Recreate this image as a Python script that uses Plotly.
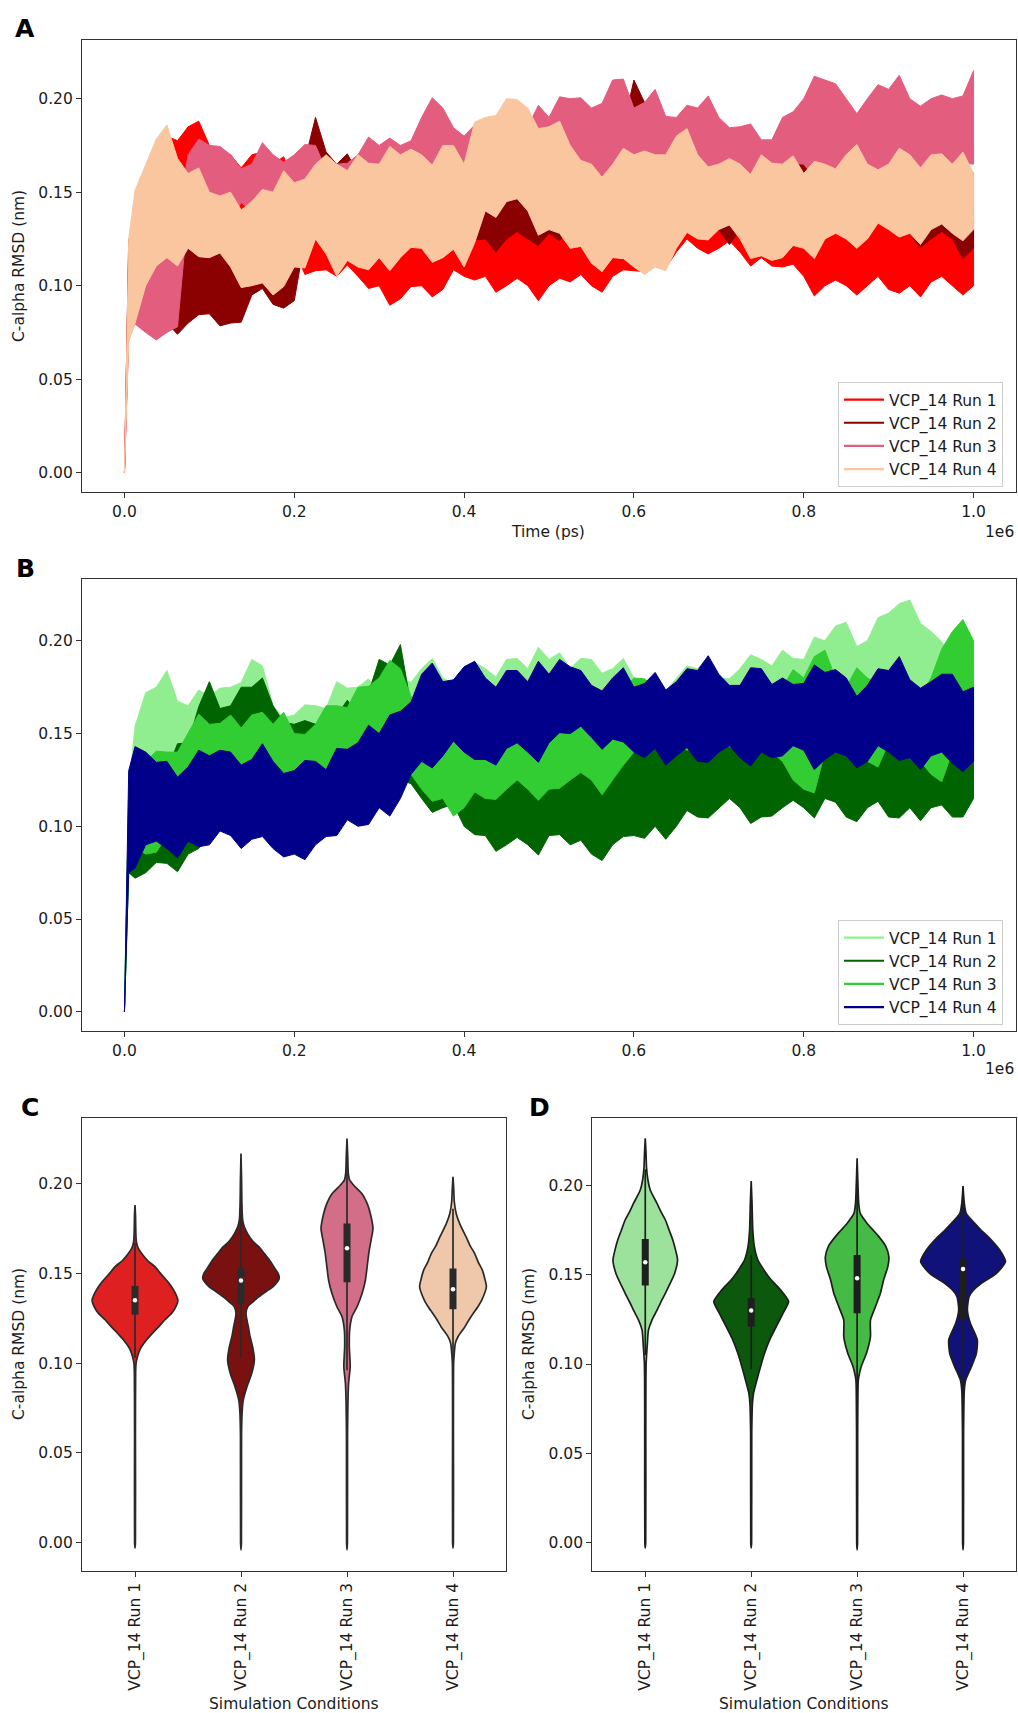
import plotly.graph_objects as go
import colorsys

W, H = 1018, 1713
FONT = "DejaVu Sans"
TXT = "#1a1a1a"

# ---------------- data ----------------
# main sampling times and the in-between sampling times (ps)
TIME_PS = [0, 5000, 25000, 50000, 75000, 100000, 125000, 150000, 175000, 200000,
           225000, 250000, 275000, 300000, 325000, 350000, 375000, 400000, 425000,
           450000, 475000, 500000, 525000, 550000, 575000, 600000, 625000, 650000,
           675000, 700000, 725000, 750000, 775000, 800000, 825000, 850000, 875000,
           900000, 925000, 950000, 975000, 1000000]
TIME_MID_PS = [12500, 37500, 62500, 87500, 112500, 137500, 162500, 187500, 212500,
               237500, 262500, 287500, 312500, 337500, 362500, 387500, 412500, 437500,
               462500, 487500, 512500, 537500, 562500, 587500, 612500, 637500, 662500,
               687500, 712500, 737500, 762500, 787500, 812500, 837500, 862500, 887500,
               912500, 937500, 962500, 987500]

RUN_LABELS = ["VCP_14 Run 1", "VCP_14 Run 2", "VCP_14 Run 3", "VCP_14 Run 4"]
COLORS_A = ["#FF0000", "#8B0000", "#E35D7F", "#FAC6A0"]
COLORS_B = ["#90EE90", "#006400", "#32CD32", "#00008B"]

# Panel A: upper / lower envelope of each RMSD trace (nm)
A1_HI = [0, 0.12, 0.15, 0.18, 0.185, 0.175, 0.17, 0.17, 0.165, 0.155, 0.15, 0.15, 0.155, 0.14, 0.13, 0.14, 0.145, 0.145, 0.14, 0.145, 0.14, 0.145, 0.14, 0.14, 0.145, 0.145, 0.15, 0.15, 0.15, 0.148, 0.15, 0.15, 0.145, 0.14, 0.14, 0.14, 0.14, 0.145, 0.14, 0.14, 0.14, 0.135]
A1_HI_MID = [0.141, 0.168, 0.1775, 0.188, 0.1705, 0.163, 0.1715, 0.169, 0.1495, 0.155, 0.1465, 0.1455, 0.142, 0.138, 0.1345, 0.15, 0.1525, 0.1385, 0.1445, 0.1365, 0.1505, 0.137, 0.1355, 0.151, 0.1495, 0.145, 0.159, 0.145, 0.152, 0.142, 0.1455, 0.1495, 0.144, 0.135, 0.148, 0.1395, 0.1485, 0.133, 0.143, 0.1465]
A1_LO = [0, 0.08, 0.10, 0.11, 0.125, 0.125, 0.12, 0.12, 0.12, 0.12, 0.108, 0.105, 0.105, 0.10, 0.093, 0.10, 0.098, 0.105, 0.105, 0.10, 0.10, 0.10, 0.102, 0.10, 0.105, 0.108, 0.115, 0.118, 0.12, 0.12, 0.118, 0.115, 0.11, 0.105, 0.10, 0.10, 0.10, 0.098, 0.10, 0.102, 0.10, 0.10]
A1_LO_MID = [0.085, 0.108, 0.1105, 0.123, 0.1275, 0.114, 0.124, 0.117, 0.106, 0.1085, 0.111, 0.0985, 0.0895, 0.0995, 0.094, 0.1085, 0.103, 0.0965, 0.104, 0.092, 0.104, 0.106, 0.0965, 0.1085, 0.1075, 0.1095, 0.125, 0.117, 0.124, 0.1105, 0.1105, 0.1115, 0.0945, 0.103, 0.095, 0.105, 0.096, 0.094, 0.105, 0.095]
A2_HI = [0, 0.125, 0.12, 0.12, 0.128, 0.125, 0.125, 0.125, 0.125, 0.13, 0.19, 0.165, 0.16, 0.165, 0.165, 0.165, 0.17, 0.17, 0.165, 0.16, 0.16, 0.165, 0.165, 0.165, 0.17, 0.21, 0.17, 0.165, 0.165, 0.17, 0.165, 0.17, 0.165, 0.165, 0.17, 0.17, 0.165, 0.165, 0.17, 0.165, 0.165, 0.16]
A2_HI_MID = [0.1165, 0.118, 0.131, 0.1295, 0.117, 0.13, 0.135, 0.1235, 0.167, 0.1715, 0.1705, 0.1595, 0.158, 0.171, 0.1695, 0.165, 0.1765, 0.1585, 0.163, 0.1545, 0.163, 0.172, 0.1715, 0.185, 0.198, 0.1645, 0.171, 0.1605, 0.1705, 0.1765, 0.1735, 0.168, 0.1625, 0.178, 0.1655, 0.158, 0.1715, 0.1765, 0.162, 0.1675]
A2_LO = [0, 0.075, 0.08, 0.08, 0.08, 0.085, 0.08, 0.095, 0.09, 0.092, 0.13, 0.13, 0.125, 0.125, 0.13, 0.125, 0.125, 0.13, 0.125, 0.125, 0.125, 0.128, 0.13, 0.13, 0.13, 0.13, 0.13, 0.128, 0.13, 0.13, 0.13, 0.128, 0.13, 0.13, 0.128, 0.125, 0.13, 0.13, 0.128, 0.125, 0.125, 0.12]
A2_LO_MID = [0.0805, 0.085, 0.074, 0.0845, 0.0785, 0.0805, 0.0985, 0.088, 0.125, 0.124, 0.1255, 0.129, 0.1195, 0.1305, 0.12, 0.1335, 0.1245, 0.118, 0.129, 0.1215, 0.124, 0.133, 0.123, 0.128, 0.135, 0.123, 0.133, 0.127, 0.122, 0.131, 0.135, 0.126, 0.122, 0.1295, 0.1225, 0.137, 0.127, 0.1205, 0.129, 0.1145]
A3_HI = [0, 0.11, 0.14, 0.14, 0.17, 0.175, 0.17, 0.165, 0.17, 0.17, 0.175, 0.165, 0.17, 0.175, 0.175, 0.19, 0.195, 0.18, 0.18, 0.185, 0.185, 0.19, 0.2, 0.195, 0.21, 0.195, 0.205, 0.19, 0.195, 0.19, 0.185, 0.178, 0.19, 0.2, 0.21, 0.2, 0.2, 0.205, 0.2, 0.2, 0.2, 0.215]
A3_HI_MID = [0.133, 0.137, 0.135, 0.1785, 0.1745, 0.1625, 0.1765, 0.166, 0.1755, 0.162, 0.1655, 0.1795, 0.179, 0.1775, 0.2005, 0.1845, 0.186, 0.1755, 0.188, 0.1965, 0.201, 0.2005, 0.1975, 0.2105, 0.198, 0.1905, 0.1965, 0.2015, 0.1845, 0.1865, 0.178, 0.193, 0.212, 0.208, 0.192, 0.2075, 0.2125, 0.196, 0.202, 0.2015]
A3_LO = [0, 0.072, 0.075, 0.075, 0.14, 0.14, 0.135, 0.14, 0.145, 0.14, 0.145, 0.14, 0.14, 0.145, 0.145, 0.15, 0.155, 0.145, 0.145, 0.145, 0.15, 0.16, 0.16, 0.165, 0.16, 0.16, 0.165, 0.16, 0.16, 0.158, 0.155, 0.155, 0.16, 0.165, 0.165, 0.165, 0.165, 0.162, 0.165, 0.165, 0.162, 0.165]
A3_LO_MID = [0.0795, 0.071, 0.078, 0.143, 0.1325, 0.1445, 0.1405, 0.1365, 0.1465, 0.1345, 0.143, 0.1475, 0.139, 0.1495, 0.1485, 0.143, 0.151, 0.142, 0.1525, 0.149, 0.158, 0.1665, 0.1545, 0.163, 0.1575, 0.1685, 0.157, 0.152, 0.1605, 0.15, 0.1525, 0.1655, 0.158, 0.163, 0.17, 0.1575, 0.1675, 0.162, 0.1555, 0.1655]
A4_HI = [0, 0.125, 0.165, 0.186, 0.16, 0.15, 0.15, 0.145, 0.15, 0.155, 0.165, 0.165, 0.17, 0.165, 0.17, 0.17, 0.175, 0.165, 0.19, 0.2, 0.195, 0.185, 0.175, 0.165, 0.165, 0.17, 0.17, 0.18, 0.17, 0.165, 0.165, 0.17, 0.165, 0.16, 0.165, 0.17, 0.165, 0.165, 0.17, 0.17, 0.165, 0.16]
A4_HI_MID = [0.151, 0.1785, 0.168, 0.163, 0.148, 0.1405, 0.1515, 0.1615, 0.157, 0.17, 0.1615, 0.1655, 0.1745, 0.173, 0.1645, 0.175, 0.1875, 0.191, 0.1995, 0.184, 0.188, 0.167, 0.158, 0.1735, 0.172, 0.17, 0.184, 0.1635, 0.168, 0.1595, 0.1655, 0.1695, 0.1665, 0.1625, 0.1755, 0.162, 0.1735, 0.163, 0.1705, 0.1715]
A4_LO = [0, 0.07, 0.10, 0.115, 0.12, 0.115, 0.11, 0.10, 0.095, 0.11, 0.125, 0.105, 0.11, 0.115, 0.115, 0.12, 0.115, 0.11, 0.14, 0.145, 0.14, 0.13, 0.12, 0.112, 0.115, 0.11, 0.11, 0.12, 0.125, 0.13, 0.125, 0.116, 0.115, 0.12, 0.125, 0.125, 0.125, 0.13, 0.128, 0.13, 0.128, 0.13]
A4_LO_MID = [0.08, 0.1105, 0.1105, 0.1155, 0.1175, 0.099, 0.1015, 0.0995, 0.1095, 0.117, 0.1135, 0.1085, 0.108, 0.1205, 0.1125, 0.1195, 0.123, 0.1365, 0.1465, 0.127, 0.128, 0.121, 0.1075, 0.1145, 0.106, 0.108, 0.1285, 0.1245, 0.1325, 0.1145, 0.1135, 0.1215, 0.1145, 0.128, 0.12, 0.1335, 0.126, 0.122, 0.133, 0.124]

# Panel B
B1_HI = [0, 0.12, 0.172, 0.184, 0.165, 0.17, 0.175, 0.19, 0.165, 0.16, 0.165, 0.178, 0.175, 0.17, 0.18, 0.185, 0.18, 0.18, 0.185, 0.19, 0.185, 0.19, 0.185, 0.19, 0.185, 0.18, 0.18, 0.18, 0.185, 0.18, 0.185, 0.19, 0.195, 0.19, 0.2, 0.21, 0.2, 0.215, 0.222, 0.205, 0.19, 0.185]
B1_HI_MID = [0.154, 0.175, 0.1675, 0.1735, 0.1745, 0.1775, 0.1865, 0.1585, 0.1655, 0.1635, 0.1745, 0.1795, 0.179, 0.1775, 0.1905, 0.177, 0.1885, 0.1805, 0.1905, 0.1965, 0.1935, 0.1905, 0.1825, 0.1905, 0.178, 0.173, 0.1865, 0.1915, 0.1795, 0.1925, 0.1865, 0.1905, 0.202, 0.208, 0.197, 0.2125, 0.22, 0.2095, 0.1995, 0.1815]
B1_LO = [0, 0.08, 0.12, 0.125, 0.13, 0.125, 0.13, 0.13, 0.125, 0.125, 0.13, 0.135, 0.14, 0.14, 0.145, 0.14, 0.14, 0.14, 0.14, 0.145, 0.14, 0.145, 0.14, 0.14, 0.145, 0.14, 0.145, 0.145, 0.14, 0.145, 0.145, 0.15, 0.155, 0.16, 0.165, 0.165, 0.17, 0.17, 0.17, 0.165, 0.16, 0.155]
B1_LO_MID = [0.10, 0.1175, 0.1305, 0.1205, 0.1255, 0.135, 0.1215, 0.129, 0.1245, 0.1245, 0.1395, 0.146, 0.1385, 0.1355, 0.143, 0.135, 0.147, 0.1405, 0.1365, 0.1465, 0.1345, 0.143, 0.1475, 0.1365, 0.1445, 0.141, 0.1355, 0.1485, 0.142, 0.1525, 0.1465, 0.1555, 0.1665, 0.157, 0.1705, 0.165, 0.176, 0.1645, 0.1555, 0.1615]
B2_HI = [0, 0.11, 0.125, 0.13, 0.145, 0.178, 0.165, 0.175, 0.165, 0.155, 0.155, 0.16, 0.16, 0.19, 0.198, 0.15, 0.145, 0.14, 0.135, 0.13, 0.13, 0.135, 0.13, 0.13, 0.135, 0.14, 0.145, 0.145, 0.15, 0.15, 0.15, 0.145, 0.145, 0.145, 0.15, 0.15, 0.15, 0.145, 0.15, 0.145, 0.145, 0.15]
B2_HI_MID = [0.1115, 0.1255, 0.1445, 0.1645, 0.1635, 0.175, 0.18, 0.156, 0.157, 0.1515, 0.168, 0.172, 0.187, 0.165, 0.1495, 0.1375, 0.1465, 0.1285, 0.133, 0.1245, 0.1305, 0.137, 0.1365, 0.1325, 0.1505, 0.142, 0.1535, 0.143, 0.153, 0.1565, 0.151, 0.148, 0.1425, 0.158, 0.148, 0.1405, 0.1515, 0.1565, 0.142, 0.1525]
B2_LO = [0, 0.075, 0.075, 0.08, 0.085, 0.095, 0.1, 0.11, 0.1, 0.1, 0.105, 0.105, 0.11, 0.12, 0.125, 0.115, 0.11, 0.1, 0.095, 0.09, 0.09, 0.095, 0.09, 0.085, 0.09, 0.095, 0.1, 0.1, 0.105, 0.11, 0.11, 0.105, 0.11, 0.11, 0.115, 0.105, 0.11, 0.105, 0.11, 0.11, 0.105, 0.115]
B2_LO_MID = [0.072, 0.0805, 0.0755, 0.088, 0.1025, 0.099, 0.109, 0.097, 0.0945, 0.107, 0.1135, 0.111, 0.1155, 0.123, 0.1075, 0.112, 0.0955, 0.0865, 0.094, 0.0845, 0.0955, 0.0925, 0.0815, 0.0945, 0.0935, 0.093, 0.1085, 0.1045, 0.115, 0.1015, 0.1055, 0.114, 0.1045, 0.113, 0.1025, 0.1135, 0.1045, 0.103, 0.1115, 0.105]
B3_HI = [0, 0.12, 0.135, 0.14, 0.15, 0.155, 0.16, 0.16, 0.155, 0.15, 0.155, 0.165, 0.175, 0.18, 0.185, 0.15, 0.145, 0.14, 0.145, 0.145, 0.15, 0.15, 0.155, 0.16, 0.155, 0.18, 0.175, 0.17, 0.175, 0.17, 0.175, 0.17, 0.175, 0.18, 0.195, 0.175, 0.18, 0.18, 0.175, 0.18, 0.205, 0.2]
B3_HI_MID = [0.1335, 0.1405, 0.14, 0.1605, 0.1555, 0.153, 0.1615, 0.1615, 0.1495, 0.165, 0.164, 0.1755, 0.1895, 0.17, 0.1395, 0.1475, 0.1525, 0.141, 0.1495, 0.144, 0.1605, 0.1545, 0.1505, 0.1735, 0.1795, 0.1675, 0.1815, 0.1685, 0.1755, 0.1645, 0.1705, 0.1845, 0.1915, 0.18, 0.1855, 0.177, 0.1835, 0.1705, 0.1955, 0.2115]
B3_LO = [0, 0.08, 0.085, 0.095, 0.1, 0.11, 0.115, 0.115, 0.115, 0.11, 0.115, 0.125, 0.14, 0.145, 0.14, 0.12, 0.115, 0.11, 0.115, 0.12, 0.12, 0.12, 0.125, 0.125, 0.125, 0.14, 0.142, 0.145, 0.142, 0.145, 0.14, 0.142, 0.135, 0.12, 0.14, 0.145, 0.135, 0.145, 0.14, 0.128, 0.14, 0.14]
B3_LO_MID = [0.0885, 0.086, 0.0905, 0.108, 0.1075, 0.122, 0.113, 0.1065, 0.1165, 0.112, 0.1355, 0.1475, 0.1365, 0.128, 0.1135, 0.1055, 0.1185, 0.1145, 0.125, 0.114, 0.1205, 0.129, 0.117, 0.133, 0.143, 0.147, 0.141, 0.146, 0.143, 0.145, 0.14, 0.125, 0.118, 0.146, 0.138, 0.132, 0.147, 0.135, 0.124, 0.145]
B4_HI = [0, 0.13, 0.14, 0.135, 0.132, 0.138, 0.14, 0.136, 0.135, 0.13, 0.135, 0.142, 0.145, 0.15, 0.162, 0.182, 0.178, 0.186, 0.18, 0.184, 0.178, 0.182, 0.186, 0.176, 0.18, 0.175, 0.183, 0.178, 0.184, 0.182, 0.176, 0.185, 0.18, 0.177, 0.183, 0.18, 0.176, 0.184, 0.179, 0.178, 0.182, 0.175]
B4_HI_MID = [0.143, 0.1345, 0.1265, 0.141, 0.141, 0.133, 0.1445, 0.1285, 0.1355, 0.1305, 0.1415, 0.1545, 0.16, 0.167, 0.188, 0.179, 0.189, 0.175, 0.184, 0.189, 0.19, 0.184, 0.173, 0.1855, 0.177, 0.1735, 0.185, 0.192, 0.176, 0.1855, 0.1765, 0.1765, 0.187, 0.1845, 0.17, 0.185, 0.1915, 0.1745, 0.182, 0.1725]
B4_LO = [0, 0.075, 0.09, 0.088, 0.092, 0.09, 0.095, 0.093, 0.088, 0.085, 0.09, 0.095, 0.1, 0.11, 0.115, 0.135, 0.138, 0.14, 0.136, 0.142, 0.14, 0.145, 0.15, 0.148, 0.147, 0.14, 0.142, 0.138, 0.135, 0.14, 0.137, 0.14, 0.138, 0.141, 0.136, 0.138, 0.135, 0.14, 0.137, 0.138, 0.134, 0.135]
B4_LO_MID = [0.0775, 0.092, 0.083, 0.089, 0.0975, 0.088, 0.0945, 0.0835, 0.082, 0.0945, 0.1035, 0.101, 0.1055, 0.128, 0.1315, 0.146, 0.136, 0.133, 0.145, 0.1345, 0.1505, 0.154, 0.1415, 0.1455, 0.137, 0.133, 0.1425, 0.1345, 0.1435, 0.1325, 0.137, 0.1435, 0.1305, 0.14, 0.1315, 0.1435, 0.1355, 0.1305, 0.14, 0.1295]

# Violin density profiles: RMSD level (nm) and half-width (category units)
C1_Y = [-0.003, 0.0, 0.06, 0.095, 0.1, 0.104, 0.108, 0.113, 0.117, 0.12, 0.124, 0.128, 0.132, 0.135, 0.139, 0.143, 0.146, 0.15, 0.1536, 0.157, 0.161, 0.164, 0.168, 0.175, 0.182, 0.188]
C1_W = [0, 0.004, 0.004, 0.006, 0.01, 0.025, 0.05, 0.11, 0.17, 0.22, 0.28, 0.35, 0.39, 0.405, 0.38, 0.34, 0.30, 0.24, 0.19, 0.12, 0.063, 0.03, 0.012, 0.007, 0.005, 0]
C2_Y = [-0.004, 0, 0.06, 0.072, 0.079, 0.087, 0.094, 0.1017, 0.109, 0.115, 0.12, 0.1276, 0.1314, 0.134, 0.137, 0.14, 0.1425, 0.147, 0.15, 0.1535, 0.1573, 0.161, 0.1647, 0.168, 0.172, 0.176, 0.18, 0.19, 0.2, 0.2167]
C2_W = [0, 0.004, 0.005, 0.01, 0.02, 0.057, 0.10, 0.126, 0.11, 0.085, 0.07, 0.047, 0.063, 0.11, 0.17, 0.24, 0.30, 0.36, 0.35, 0.31, 0.27, 0.22, 0.17, 0.11, 0.063, 0.03, 0.015, 0.008, 0.006, 0]
C3_Y = [-0.004, 0, 0.06, 0.079, 0.0887, 0.098, 0.104, 0.109, 0.1184, 0.1258, 0.1314, 0.1388, 0.146, 0.1536, 0.161, 0.1685, 0.175, 0.1833, 0.189, 0.1944, 0.198, 0.2019, 0.206, 0.215, 0.225]
C3_W = [0, 0.004, 0.005, 0.009, 0.015, 0.03, 0.026, 0.022, 0.025, 0.047, 0.095, 0.142, 0.173, 0.19, 0.205, 0.227, 0.245, 0.22, 0.19, 0.14, 0.08, 0.025, 0.012, 0.007, 0]
C4_Y = [-0.003, 0, 0.06, 0.1, 0.1054, 0.111, 0.1147, 0.12, 0.124, 0.1276, 0.131, 0.135, 0.1425, 0.147, 0.1518, 0.156, 0.161, 0.165, 0.17, 0.1777, 0.1833, 0.19, 0.197, 0.2037]
C4_W = [0, 0.004, 0.004, 0.006, 0.012, 0.022, 0.047, 0.11, 0.15, 0.19, 0.23, 0.27, 0.315, 0.30, 0.277, 0.24, 0.205, 0.165, 0.126, 0.063, 0.03, 0.012, 0.007, 0]
D1_Y = [-0.003, 0, 0.06, 0.1, 0.1116, 0.119, 0.1246, 0.13, 0.134, 0.139, 0.1433, 0.1507, 0.1582, 0.164, 0.1694, 0.175, 0.1806, 0.185, 0.19, 0.1974, 0.203, 0.21, 0.218, 0.2263]
D1_W = [0, 0.004, 0.005, 0.008, 0.02, 0.03, 0.063, 0.11, 0.142, 0.185, 0.22, 0.277, 0.305, 0.285, 0.26, 0.225, 0.19, 0.15, 0.11, 0.047, 0.025, 0.012, 0.007, 0]
D2_Y = [-0.003, 0, 0.06, 0.078, 0.0836, 0.091, 0.0985, 0.106, 0.1134, 0.1209, 0.1284, 0.1349, 0.139, 0.1433, 0.147, 0.1507, 0.1545, 0.1582, 0.1657, 0.175, 0.19, 0.2024]
D2_W = [0, 0.004, 0.005, 0.012, 0.022, 0.054, 0.088, 0.126, 0.173, 0.236, 0.30, 0.353, 0.31, 0.25, 0.19, 0.142, 0.10, 0.063, 0.03, 0.015, 0.008, 0]
D3_Y = [-0.004, 0, 0.06, 0.09, 0.0929, 0.0985, 0.106, 0.1153, 0.12, 0.1246, 0.1321, 0.1396, 0.147, 0.1545, 0.16, 0.166, 0.1713, 0.175, 0.1787, 0.1843, 0.19, 0.2, 0.2151]
D3_W = [0, 0.004, 0.005, 0.01, 0.016, 0.038, 0.088, 0.126, 0.125, 0.126, 0.173, 0.22, 0.25, 0.29, 0.30, 0.27, 0.205, 0.15, 0.095, 0.03, 0.015, 0.008, 0]
D4_Y = [-0.004, 0, 0.06, 0.0854, 0.091, 0.0985, 0.106, 0.1134, 0.118, 0.1228, 0.1302, 0.1377, 0.1414, 0.1451, 0.1507, 0.1573, 0.1638, 0.1713, 0.175, 0.1787, 0.1843, 0.19, 0.1996]
D4_W = [0, 0.004, 0.005, 0.012, 0.025, 0.079, 0.126, 0.135, 0.105, 0.069, 0.041, 0.057, 0.10, 0.173, 0.315, 0.40, 0.346, 0.236, 0.17, 0.11, 0.03, 0.012, 0]

# inner box statistics: whisker low, q1, median, q3, whisker high
C_BOX = [[0.103, 0.127, 0.135, 0.143, 0.167],
         [0.103, 0.133, 0.146, 0.153, 0.183],
         [0.096, 0.145, 0.164, 0.1777, 0.222],
         [0.096, 0.130, 0.1412, 0.1527, 0.186]]
D_BOX = [[0.105, 0.144, 0.157, 0.170, 0.209],
         [0.097, 0.121, 0.130, 0.137, 0.161],
         [0.080, 0.1284, 0.148, 0.161, 0.210],
         [0.074, 0.125, 0.1532, 0.159, 0.199]]

X_TICKS = [0, 200000, 400000, 600000, 800000, 1000000]
X_TICKTEXT = ["0.0", "0.2", "0.4", "0.6", "0.8", "1.0"]
Y_TICKS = [0.0, 0.05, 0.10, 0.15, 0.20]


# ---------------- helpers ----------------
def px_x(px):
    return px / W


def px_y(py):
    return 1 - py / H


def desat(hexcol, s=0.75):
    r, g, b = (int(hexcol[i:i + 2], 16) / 255 for i in (1, 3, 5))
    h, l, sat = colorsys.rgb_to_hls(r, g, b)
    r, g, b = colorsys.hls_to_rgb(h, l, sat * s)
    return "#%02x%02x%02x" % (round(r * 255), round(g * 255), round(b * 255))


def merge(main, mid):
    """Combine main-time samples with the in-between samples, in time order."""
    assert len(main) == len(TIME_PS) and len(mid) == len(TIME_MID_PS)
    pts = sorted(list(zip(TIME_PS, main)) + list(zip(TIME_MID_PS, mid)))
    return [p[0] for p in pts], [p[1] for p in pts]


fig = go.Figure()


def add_bands(bands, colors, xa, ya, legend_name):
    for (hi, hi_mid, lo, lo_mid), c in zip(bands, colors):
        t, h = merge(hi, hi_mid)
        _, l = merge(lo, lo_mid)
        fig.add_trace(go.Scatter(
            x=t + t[::-1], y=h + l[::-1], mode="lines",
            fill="toself", fillcolor=c, line=dict(color=c, width=1),
            xaxis=xa, yaxis=ya, showlegend=False, hoverinfo="skip"))
    for lab, c in zip(RUN_LABELS, colors):
        fig.add_trace(go.Scatter(
            x=[None], y=[None], mode="lines", name=lab,
            line=dict(color=c, width=2.2), xaxis=xa, yaxis=ya,
            legend=legend_name, showlegend=True))


add_bands([(A1_HI, A1_HI_MID, A1_LO, A1_LO_MID), (A2_HI, A2_HI_MID, A2_LO, A2_LO_MID),
           (A3_HI, A3_HI_MID, A3_LO, A3_LO_MID), (A4_HI, A4_HI_MID, A4_LO, A4_LO_MID)],
          COLORS_A, "x", "y", "legend")
add_bands([(B1_HI, B1_HI_MID, B1_LO, B1_LO_MID), (B2_HI, B2_HI_MID, B2_LO, B2_LO_MID),
           (B3_HI, B3_HI_MID, B3_LO, B3_LO_MID), (B4_HI, B4_HI_MID, B4_LO, B4_LO_MID)],
          COLORS_B, "x2", "y2", "legend2")


def add_violins(profiles, boxes, colors, gray, xa, ya):
    for i, ((ys, ws), box, c) in enumerate(zip(profiles, boxes, colors)):
        xs = [i + w for w in ws] + [i - w for w in ws[::-1]]
        yy = ys + ys[::-1]
        fig.add_trace(go.Scatter(
            x=xs, y=yy, mode="lines", fill="toself", fillcolor=desat(c),
            line=dict(color=gray, width=1.7, shape="spline", smoothing=0.6),
            xaxis=xa, yaxis=ya, showlegend=False, hoverinfo="skip"))
        wl, q1, med, q3, wh = box
        fig.add_trace(go.Scatter(x=[i, i], y=[wl, wh], mode="lines",
                                 line=dict(color=gray, width=1.7),
                                 xaxis=xa, yaxis=ya, showlegend=False, hoverinfo="skip"))
        fig.add_trace(go.Scatter(x=[i, i], y=[q1, q3], mode="lines",
                                 line=dict(color=gray, width=7),
                                 xaxis=xa, yaxis=ya, showlegend=False, hoverinfo="skip"))
        fig.add_trace(go.Scatter(x=[i], y=[med], mode="markers",
                                 marker=dict(color="white", size=4.5, line=dict(width=0)),
                                 xaxis=xa, yaxis=ya, showlegend=False, hoverinfo="skip"))


add_violins([(C1_Y, C1_W), (C2_Y, C2_W), (C3_Y, C3_W), (C4_Y, C4_W)], C_BOX,
            COLORS_A, "#2a2a2a", "x3", "y3")
add_violins([(D1_Y, D1_W), (D2_Y, D2_W), (D3_Y, D3_W), (D4_Y, D4_W)], D_BOX,
            COLORS_B, "#1e1e1e", "x4", "y4")

# ---------------- layout ----------------
tickfont = dict(family=FONT, size=15.5, color=TXT)
base = dict(showline=True, linecolor="#333333", linewidth=1.2, mirror=True,
            ticks="outside", ticklen=5, tickwidth=1.2, tickcolor="#333333",
            showgrid=False, zeroline=False, tickfont=tickfont)

yaxis_common = dict(base, tickvals=Y_TICKS, tickformat=".2f")
legend_style = dict(xanchor="left", yanchor="top", bordercolor="#cccccc",
                    borderwidth=1, bgcolor="white", itemwidth=40,
                    font=dict(family=FONT, size=15.5, color=TXT), tracegroupgap=0)

fig.update_layout(
    width=W, height=H, margin=dict(l=0, r=0, t=0, b=0),
    paper_bgcolor="white", plot_bgcolor="white",
    font=dict(family=FONT, size=15.5, color=TXT),
    xaxis=dict(base, domain=[px_x(82), px_x(1016)], anchor="y",
               range=[-50000, 1050000], tickvals=X_TICKS, ticktext=X_TICKTEXT),
    yaxis=dict(yaxis_common, domain=[px_y(492.3), px_y(40)], anchor="x",
               range=[-0.0105, 0.2314]),
    xaxis2=dict(base, domain=[px_x(82), px_x(1016)], anchor="y2",
                range=[-50000, 1050000], tickvals=X_TICKS, ticktext=X_TICKTEXT),
    yaxis2=dict(yaxis_common, domain=[px_y(1031), px_y(579.3)], anchor="x2",
                range=[-0.0104, 0.2332]),
    xaxis3=dict(base, domain=[px_x(82), px_x(506)], anchor="y3",
                range=[-0.5, 3.5], tickvals=[0, 1, 2, 3], ticktext=RUN_LABELS,
                tickangle=-90),
    yaxis3=dict(yaxis_common, domain=[px_y(1570.7), px_y(1118)], anchor="x3",
                range=[-0.0156, 0.2365]),
    xaxis4=dict(base, domain=[px_x(592.3), px_x(1016)], anchor="y4",
                range=[-0.5, 3.5], tickvals=[0, 1, 2, 3], ticktext=RUN_LABELS,
                tickangle=-90),
    yaxis4=dict(yaxis_common, domain=[px_y(1570.7), px_y(1118)], anchor="x4",
                range=[-0.0157, 0.2377]),
    legend=dict(legend_style, x=px_x(838), y=px_y(382)),
    legend2=dict(legend_style, x=px_x(838), y=px_y(920)),
)


def ann(text, x, y, size=15.5, bold=False, angle=0, xanchor="center"):
    fig.add_annotation(
        text="<b>%s</b>" % text if bold else text, x=px_x(x), y=px_y(y),
        xref="paper", yref="paper", showarrow=False, textangle=angle,
        xanchor=xanchor, yanchor="middle",
        font=dict(family=FONT, size=size, color="#000000" if bold else TXT))


ann("A", 25, 28, size=25, bold=True)
ann("B", 25, 568, size=25, bold=True)
ann("C", 30, 1107, size=25, bold=True)
ann("D", 539, 1107, size=25, bold=True)
ann("C-alpha RMSD (nm)", 19, 266, angle=-90)
ann("C-alpha RMSD (nm)", 19, 1344, angle=-90)
ann("C-alpha RMSD (nm)", 529, 1344, angle=-90)
ann("Time (ps)", 548, 532)
ann("1e6", 1016, 532, xanchor="right")
ann("1e6", 1016, 1069, xanchor="right")
ann("Simulation Conditions", 294, 1704)
ann("Simulation Conditions", 804, 1704)

fig.write_html("out.html")
